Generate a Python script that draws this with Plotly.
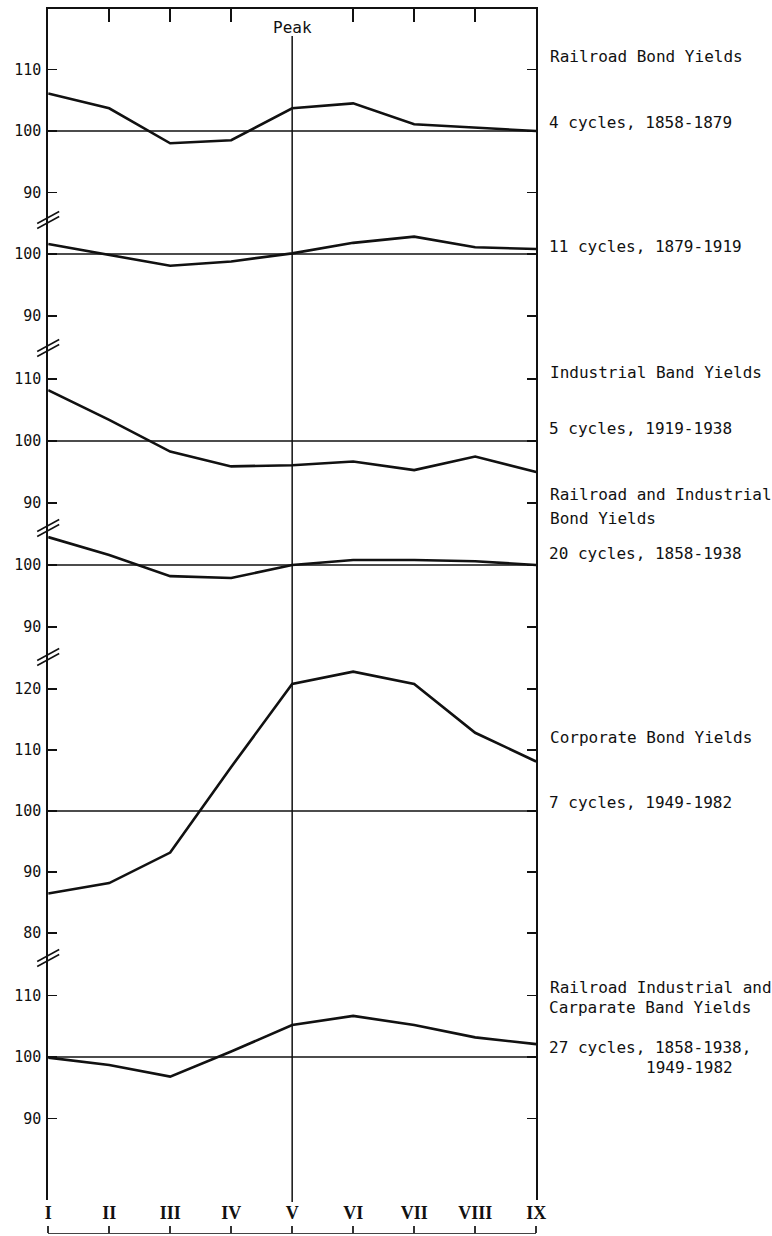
import plotly.graph_objects as go

# ---------------- data ----------------
stages = ["I", "II", "III", "IV", "V", "VI", "VII", "VIII", "IX"]
stage_pos = [1, 2, 3, 4, 5, 6, 7, 8, 9]

railroad_1858_1879 = [106.1, 103.7, 98.0, 98.5, 103.7, 104.5, 101.1, 100.5, 100.0]
railroad_1879_1919 = [101.6, 99.8, 98.1, 98.8, 100.1, 101.8, 102.8, 101.1, 100.8]
industrial_1919_1938 = [108.2, 103.4, 98.3, 95.9, 96.1, 96.7, 95.3, 97.5, 95.0]
rr_ind_1858_1938 = [104.5, 101.6, 98.2, 97.9, 100.0, 100.8, 100.8, 100.6, 100.0]
corporate_1949_1982 = [86.5, 88.2, 93.2, 107.2, 120.8, 122.8, 120.8, 112.8, 108.1]
all_1858_1938_1949_1982 = [99.9, 98.7, 96.8, 100.9, 105.2, 106.7, 105.2, 103.2, 102.1]

series = [railroad_1858_1879, railroad_1879_1919, industrial_1919_1938,
          rr_ind_1858_1938, corporate_1949_1982, all_1858_1938_1949_1982]

panel_ticks = [[90, 100, 110], [90, 100], [90, 100, 110], [90, 100],
               [80, 90, 100, 110, 120], [90, 100, 110]]
reference_level = 100
peak_stage = 5

# ---------------- layout geometry (pixels) ----------------
W, H = 772, 1236
X_LEFT, X_RIGHT = 45, 542
# (top px, bottom px, px of 100 line, px per index point)
panel_geom = [
    (7, 220, 131, 6.135),
    (220, 348, 254, 6.2),
    (348, 528, 441, 6.2),
    (528, 657, 565, 6.2),
    (657, 958, 811, 6.11),
    (958, 1200, 1057, 6.14),
]

INK = "#111111"
TXT_FONT = dict(family="DejaVu Sans Mono", size=16, color=INK)
TICK_FONT = dict(family="DejaVu Sans Mono", size=15, color=INK)


def py(px):
    return 1 - px / H


fig = go.Figure()
layout = dict(
    width=W, height=H, autosize=False,
    margin=dict(l=0, r=0, t=0, b=0, pad=0),
    paper_bgcolor="white", plot_bgcolor="white",
    showlegend=False,
)

# bottom stage axis (labels above a bracket line)
layout["xaxis"] = dict(
    domain=[X_LEFT / W, X_RIGHT / W], range=[1, 9],
    anchor="free", position=py(1233), side="top",
    showline=True, linewidth=1.3, linecolor="#444",
    ticks="outside", ticklen=7, tickwidth=1.4, tickcolor="#333",
    tickvals=stage_pos, ticktext=stages,
    tickfont=dict(family="Liberation Serif", size=18, color=INK, weight="bold"),
    showgrid=False, zeroline=False, fixedrange=True,
)
# top frame with hanging ticks
layout["xaxis2"] = dict(
    overlaying="x", matches="x", range=[1, 9],
    anchor="free", position=py(7), side="top",
    showline=True, linewidth=1.8, linecolor=INK,
    ticks="inside", ticklen=13, tickwidth=1.8, tickcolor=INK,
    tickvals=[2, 3, 4, 6, 7, 8], showticklabels=False,
    showgrid=False, zeroline=False, fixedrange=True,
)

shapes = []
for i, (top, bot, p100, k) in enumerate(panel_geom):
    name = "yaxis" if i == 0 else f"yaxis{i + 1}"
    ref = "y" if i == 0 else f"y{i + 1}"
    lo = reference_level - (bot - p100) / k
    hi = reference_level + (p100 - top) / k
    layout[name] = dict(
        domain=[py(bot), py(top)], range=[lo, hi], anchor="x",
        showline=True, linewidth=1.8, linecolor=INK, mirror="ticks",
        ticks="inside", ticklen=9, tickwidth=1.6, tickcolor=INK,
        tickvals=panel_ticks[i], ticktext=[str(t) for t in panel_ticks[i]],
        tickfont=TICK_FONT, ticklabelstandoff=2,
        showgrid=False, zeroline=False, fixedrange=True,
    )
    fig.add_trace(go.Scatter(
        x=stage_pos, y=series[i], mode="lines", xaxis="x", yaxis=ref,
        line=dict(color=INK, width=2.6), hoverinfo="skip",
    ))
    shapes.append(dict(
        type="line", xref="x", yref=ref, x0=1, x1=9,
        y0=reference_level, y1=reference_level,
        line=dict(color=INK, width=1.4), layer="below",
    ))
    # axis break marks "//" on the left axis
    if i > 0:
        for off in (-2.5, 2.5):
            shapes.append(dict(
                type="line", xref="paper", xsizemode="pixel", xanchor=X_LEFT / W,
                x0=-11, x1=11,
                yref="paper", ysizemode="pixel", yanchor=py(top),
                y0=-6 + off, y1=6 + off,
                line=dict(color=INK, width=1.5),
            ))

# invisible trace so that the top frame axis is rendered
fig.add_trace(go.Scatter(x=[1], y=[None], xaxis="x2", yaxis="y",
                         mode="lines", hoverinfo="skip"))

# peak reference line
shapes.append(dict(
    type="line", xref="x", x0=peak_stage, x1=peak_stage,
    yref="paper", y0=py(1202), y1=py(36),
    line=dict(color=INK, width=1.5),
))

annotations = [dict(
    text="Peak", xref="x", x=peak_stage, yref="paper", y=py(28),
    xanchor="center", yanchor="middle", showarrow=False,
    font=dict(family="DejaVu Sans Mono", size=16, color=INK),
)]

labels = [
    ("Railroad Bond Yields", 554, 57),
    ("4 cycles, 1858-1879", 553, 123),
    ("11 cycles, 1879-1919", 553, 247),
    ("Industrial Band Yields", 554, 372),
    ("5 cycles, 1919-1938", 553, 428),
    ("Railroad and Industrial", 554, 495),
    ("Bond Yields", 554, 518),
    ("20 cycles, 1858-1938", 553, 553),
    ("Corporate Bond Yields", 554, 737),
    ("7 cycles, 1949-1982", 553, 802),
    ("Railroad Industrial and", 554, 987),
    ("Carparate Band Yields", 553, 1007),
    ("27 cycles, 1858-1938,", 553, 1047),
    ("1949-1982", 652, 1067),
]
for text, xp, yp in labels:
    annotations.append(dict(
        text=text, xref="paper", x=xp / W, yref="paper", y=py(yp),
        xanchor="left", yanchor="middle", showarrow=False, font=TXT_FONT,
    ))

layout["shapes"] = shapes
layout["annotations"] = annotations
fig.update_layout(**layout)

fig.write_html("out.html", config={"displayModeBar": False, "staticPlot": True})
